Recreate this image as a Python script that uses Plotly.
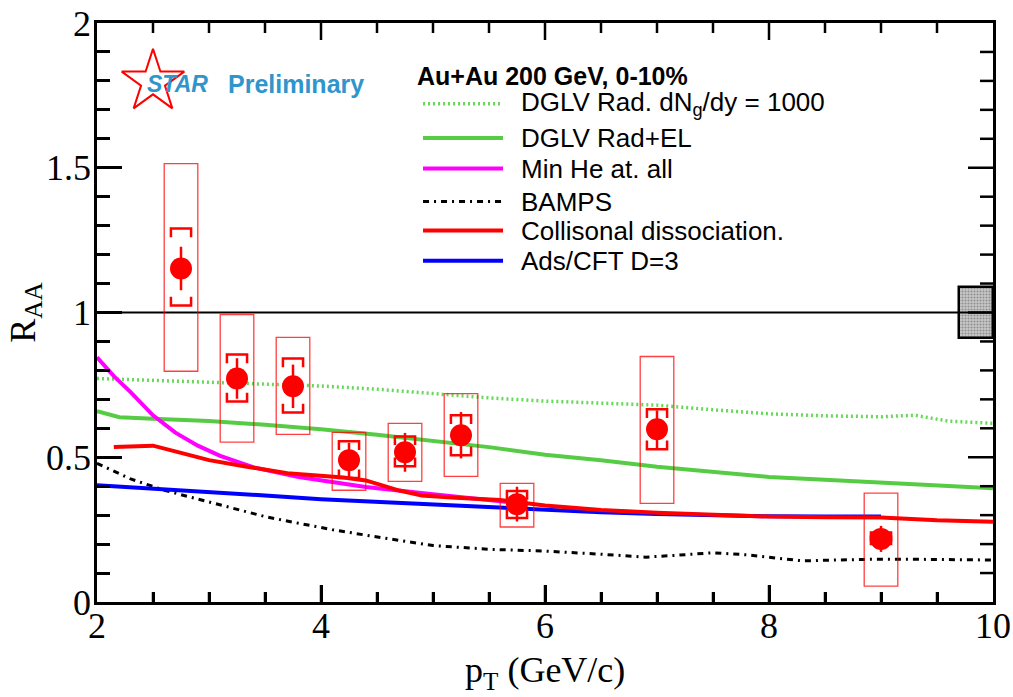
import plotly.graph_objects as go

# ---------------- data ----------------
pt = [2.75, 3.25, 3.75, 4.25, 4.75, 5.25, 5.75, 7.0, 9.0]
raa = [1.152, 0.772, 0.745, 0.490, 0.517, 0.576, 0.338, 0.597, 0.218]
stat_err = [0.075, 0.07, 0.075, 0.06, 0.067, 0.08, 0.06, 0.065, 0.045]
sysA_hi = [1.29, 0.855, 0.841, 0.555, 0.572, 0.645, 0.383, 0.666, 0.24]
sysA_lo = [1.024, 0.693, 0.655, 0.428, 0.469, 0.507, 0.290, 0.528, 0.20]
sysB_hi = [1.514, 0.993, 0.914, 0.586, 0.617, 0.720, 0.410, 0.848, 0.376]
sysB_lo = [0.797, 0.552, 0.579, 0.386, 0.417, 0.434, 0.259, 0.341, 0.055]

norm_center = 1.0
norm_err = 0.088

dglv_rad_x = [2.0, 2.5, 3.0, 3.5, 4.0, 4.5, 5.0, 5.5, 6.0, 6.5, 7.0, 7.5, 8.0, 8.5, 9.0, 9.3, 9.6, 10.0]
dglv_rad_y = [0.772, 0.766, 0.760, 0.754, 0.746, 0.735, 0.720, 0.705, 0.694, 0.686, 0.680, 0.664, 0.650, 0.643, 0.640, 0.645, 0.625, 0.617]

dglv_el_x = [2.0, 2.2, 2.5, 3.0, 3.5, 4.0, 4.5, 5.0, 5.5, 6.0, 6.5, 7.0, 7.5, 8.0, 8.5, 9.0, 9.5, 10.0]
dglv_el_y = [0.659, 0.638, 0.633, 0.625, 0.612, 0.597, 0.578, 0.558, 0.535, 0.509, 0.490, 0.467, 0.450, 0.432, 0.422, 0.412, 0.402, 0.393]

minhe_x = [2.0, 2.15, 2.3, 2.5, 2.7, 2.9, 3.1, 3.4, 3.8, 4.4, 5.0, 5.5, 5.8]
minhe_y = [0.845, 0.780, 0.725, 0.645, 0.585, 0.540, 0.505, 0.465, 0.432, 0.397, 0.372, 0.352, 0.340]

bamps_x = [2.0, 2.3, 2.6, 3.0, 3.2, 3.5, 3.8, 4.1, 4.4, 4.7, 5.0, 5.5, 6.0, 6.5, 6.9, 7.2, 7.5, 7.8, 8.0, 8.3, 8.6, 9.0, 9.5, 10.0]
bamps_y = [0.479, 0.425, 0.386, 0.345, 0.324, 0.295, 0.272, 0.250, 0.231, 0.214, 0.195, 0.182, 0.176, 0.165, 0.155, 0.162, 0.170, 0.163, 0.155, 0.142, 0.145, 0.148, 0.147, 0.145]

coll_x = [2.15, 2.5, 2.75, 3.0, 3.3, 3.7, 4.2, 4.4, 4.7, 4.9, 5.2, 5.6, 6.0, 6.5, 7.0, 7.5, 8.0, 8.5, 9.0, 9.5, 10.0]
coll_y = [0.535, 0.540, 0.515, 0.490, 0.470, 0.445, 0.430, 0.420, 0.385, 0.368, 0.360, 0.352, 0.333, 0.318, 0.308, 0.300, 0.295, 0.293, 0.292, 0.282, 0.277]

ads_x = [2.0, 2.5, 3.0, 3.5, 4.0, 4.5, 5.0, 5.5, 6.0, 6.5, 7.0, 7.5, 8.0, 8.5, 9.0]
ads_y = [0.403, 0.392, 0.380, 0.368, 0.355, 0.346, 0.336, 0.326, 0.318, 0.310, 0.304, 0.299, 0.296, 0.295, 0.295]

legend_title = "Au+Au 200 GeV, 0-10%"
legend_labels = ["DGLV Rad. dN<sub>g</sub>/dy = 1000", "DGLV Rad+EL", "Min He at. all",
                 "BAMPS", "Collisonal dissociation.", "Ads/CFT D=3"]

# axis tick positions
x_range = [2, 10]
y_range = [0, 2]
x_minor_ticks = [2 + 0.5 * k for k in range(1, 16)]
y_minor_ticks = [round(0.1 * k, 1) for k in range(1, 20)]

# ---------------- styles ----------------
GREEN_DOT = "#66d958"
GREEN = "#55cc44"
MAGENTA = "#ff00ff"
RED = "#ff0000"
BLUE = "#0000ff"
STARBLUE = "#2f95cb"

styles = [
    dict(color=GREEN_DOT, width=3.5, dash="2px,3px"),
    dict(color=GREEN, width=4, dash="solid"),
    dict(color=MAGENTA, width=4, dash="solid"),
    dict(color="black", width=3, dash="6px,5px,2px,5px"),
    dict(color=RED, width=4, dash="solid"),
    dict(color=BLUE, width=4, dash="solid"),
]
curves = [(dglv_rad_x, dglv_rad_y), (dglv_el_x, dglv_el_y), (minhe_x, minhe_y),
          (bamps_x, bamps_y), (coll_x, coll_y), (ads_x, ads_y)]

fig = go.Figure()

# normalization uncertainty box
fig.add_trace(go.Bar(x=[9.85], y=[2 * norm_err], base=[norm_center - norm_err], width=[0.3],
                     marker=dict(color="#b0b0b0", line=dict(color="black", width=2.5),
                                 pattern=dict(shape=".", fgcolor="#555555", bgcolor="#c8c8c8", size=3, solidity=0.4)),
                     showlegend=False, hoverinfo="skip"))

# unity line
fig.add_hline(y=1.0, line=dict(color="black", width=2))

# model curves
order = [0, 1, 2, 3, 5, 4]
for i in order:
    x, y = curves[i]
    fig.add_trace(go.Scatter(x=x, y=y, mode="lines", line=styles[i], showlegend=False, hoverinfo="skip"))

# big systematic boxes
BOX_HW = 0.15
for xi, lo, hi in zip(pt, sysB_lo, sysB_hi):
    fig.add_shape(type="rect", x0=xi - BOX_HW, x1=xi + BOX_HW, y0=lo, y1=hi, xref="x", yref="y",
                  line=dict(color="rgba(255,0,0,0.75)", width=1.3), fillcolor="rgba(0,0,0,0)")

# brackets
BR_HW = 0.09
BR_T = 0.03
bx, by = [], []
for xi, lo, hi in zip(pt, sysA_lo, sysA_hi):
    bx += [xi - BR_HW, xi - BR_HW, xi + BR_HW, xi + BR_HW, None]
    by += [hi - BR_T, hi, hi, hi - BR_T, None]
    bx += [xi - BR_HW, xi - BR_HW, xi + BR_HW, xi + BR_HW, None]
    by += [lo + BR_T, lo, lo, lo + BR_T, None]
fig.add_trace(go.Scatter(x=bx, y=by, mode="lines", line=dict(color=RED, width=2.5),
                         showlegend=False, hoverinfo="skip"))

# data points
fig.add_trace(go.Scatter(x=pt, y=raa, mode="markers",
                         marker=dict(symbol="circle", size=22, color=RED, line=dict(width=0)),
                         error_y=dict(type="data", array=stat_err, color=RED, thickness=2.5, width=0),
                         showlegend=False, hoverinfo="skip"))

# STAR logo star
fig.add_trace(go.Scatter(x=[2.5], y=[1.797], mode="markers",
                         marker=dict(symbol="star-open", size=47, color=RED, line=dict(color=RED, width=2)),
                         showlegend=False, hoverinfo="skip"))

# tick marks on bottom / top / right edges (inside)
PLOT_W, PLOT_H = 896, 579
TICK = dict(color="black", width=2.5)
for xt in x_minor_ticks:
    L = 17 if abs(xt % 2) < 1e-9 else 10
    f = L / PLOT_H
    fig.add_shape(type="line", xref="x", yref="paper", x0=xt, x1=xt, y0=0, y1=f, line=TICK)
    fig.add_shape(type="line", xref="x", yref="paper", x0=xt, x1=xt, y0=1, y1=1 - f, line=TICK)
for yt in y_minor_ticks:
    L = 25 if abs((yt * 2) % 1) < 1e-9 else 13
    f = L / PLOT_W
    fig.add_shape(type="line", xref="paper", yref="y", x0=1, x1=1 - f, y0=yt, y1=yt, line=TICK)

ann = []
ann.append(dict(x=2.72, y=1.79, xref="x", yref="y", text="<b><i>STAR</i></b>", showarrow=False,
                font=dict(family="Liberation Sans", size=23, color=STARBLUE), xanchor="center", yanchor="middle"))
ann.append(dict(x=3.15, y=1.79, xref="x", yref="y", text="<b>Preliminary</b>", showarrow=False,
                font=dict(family="Liberation Sans", size=25, color=STARBLUE), xanchor="left", yanchor="middle"))

# manual legend
LX0, LX1, TX = 4.911, 5.625, 5.77
rows_y = [1.721, 1.603, 1.497, 1.383, 1.283, 1.179]
ann.append(dict(x=4.84, y=1.817, xref="x", yref="y", text="<b>" + legend_title + "</b>", showarrow=False,
                font=dict(family="Liberation Sans", size=25, color="black"), xanchor="left", yanchor="middle"))
for i, (lab, ry) in enumerate(zip(legend_labels, rows_y)):
    st = styles[i]
    fig.add_shape(type="line", x0=LX0, x1=LX1, y0=ry, y1=ry, xref="x", yref="y",
                  line=dict(color=st["color"], width=st["width"], dash=st["dash"]))
    ann.append(dict(x=TX, y=ry, xref="x", yref="y", text=lab, showarrow=False,
                    font=dict(family="Liberation Sans", size=26, color="black"), xanchor="left", yanchor="middle"))

# axis titles
ann.append(dict(x=6.0, y=-0.08, xref="x", yref="paper", text="p<sub>T</sub> (GeV/c)", showarrow=False,
                font=dict(family="Liberation Serif", size=36, color="black"), xanchor="center", yanchor="top"))
ann.append(dict(x=-0.08, y=0.5, xref="paper", yref="paper", text="R<sub>AA</sub>", showarrow=False, textangle=-90,
                font=dict(family="Liberation Serif", size=36, color="black"), xanchor="center", yanchor="middle"))

axis_common = dict(showgrid=False, zeroline=False, showline=True, linecolor="black", linewidth=2.5,
                   ticks="inside", tickcolor="black", tickwidth=2.5, automargin=False, mirror=True,
                   tickfont=dict(family="Liberation Serif", size=36, color="black"))

fig.update_layout(
    width=1013, height=697,
    margin=dict(l=97, r=20, t=23, b=95, autoexpand=False),
    paper_bgcolor="white", plot_bgcolor="white",
    xaxis=dict(range=x_range, dtick=2, tick0=2, ticklen=17, ticklabelstandoff=-10,
               minor=dict(dtick=0.5, ticklen=10, tickwidth=2.5, ticks="inside", tickcolor="black"),
               **axis_common),
    yaxis=dict(range=y_range, dtick=0.5, tick0=0, ticklen=25, ticklabelstandoff=-4,
               minor=dict(dtick=0.1, ticklen=13, tickwidth=2.5, ticks="inside", tickcolor="black"),
               **axis_common),
    annotations=ann,
    showlegend=False,
    bargap=0,
)

fig.write_html("out.html", config={"displayModeBar": False},
               post_script="document.body.style.margin='0px';document.body.style.overflow='hidden';")
